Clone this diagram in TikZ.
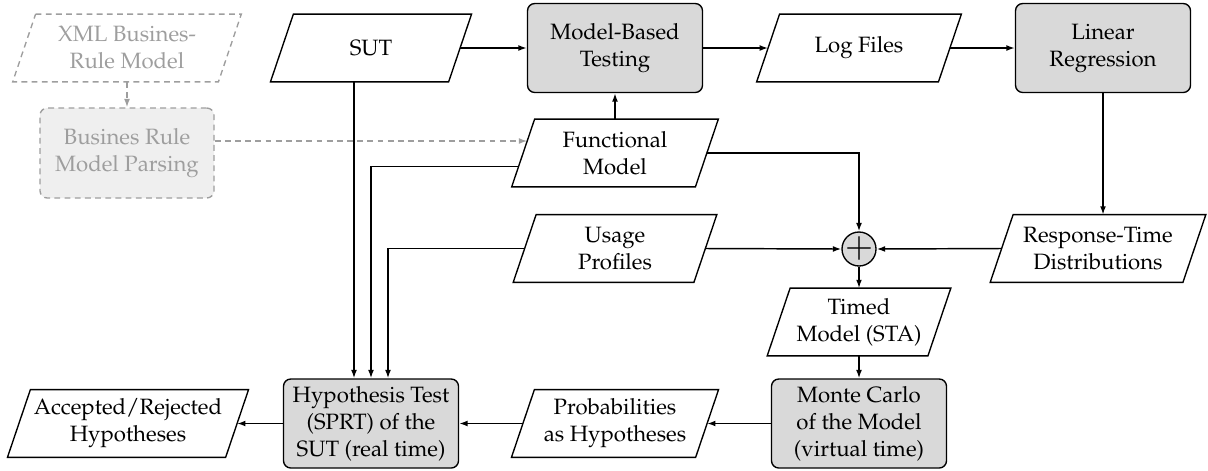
\documentclass[tikz,border=0pt]{standalone}
\usepackage[T1]{fontenc}
\usepackage{mathpazo}
\usetikzlibrary{arrows.meta,calc}
\definecolor{boxgray}{HTML}{D9D9D9}
\definecolor{lightfill}{HTML}{EFEFEF}
\definecolor{ghost}{HTML}{9E9E9E}
\newcommand\paraoutline[2][]{%
  \draw[outl,#1] ([xshift=6.3pt]#2.north west) -- ([xshift=6.3pt]#2.north east)
    -- ([xshift=-6.3pt]#2.south east) -- ([xshift=-6.3pt]#2.south west) -- cycle;}
\tikzset{
  txt/.style={font=\fontsize{12.2}{14.85}\selectfont, align=center},
  outl/.style={line width=0.75pt, line join=miter},
  para/.style={txt, rectangle, inner sep=0pt, minimum height=36.85pt},
  procbox/.style={txt, rectangle, draw, line width=0.75pt, rounded corners=4pt,
    fill=boxgray, minimum width=96.25pt, minimum height=48.95pt, inner sep=1pt},
  ghostpara/.style={para, text=ghost},
  ghostbox/.style={txt, rectangle, draw=ghost, text=ghost, dash pattern=on 3.2pt off 2.4pt,
    line width=0.75pt, rounded corners=4pt, fill=lightfill,
    minimum width=95.7pt, minimum height=49.5pt},
  conn/.style={line width=0.8pt, -{Latex[length=4.6pt,width=3.2pt]}},
  ghostconn/.style={line width=0.75pt, draw=ghost, dash pattern=on 3.2pt off 2.4pt,
    -{Latex[length=4.6pt,width=3.2pt,fill=ghost]}},
  plusnode/.style={circle, draw, line width=0.75pt, fill=boxgray, minimum size=18.7pt, inner sep=0pt}
}
\begin{document}
\begin{tikzpicture}[x=0.55pt, y=-0.55pt]
\useasboundingbox (0,0) rectangle (1208,470);

% nodes
\node[ghostpara, minimum width=112.75pt] (xml) at (127,48) {XML Busines-\\Rule Model};
\node[ghostbox] (parse) at (127,153) {Busines Rule\\Model Parsing};
\node[para, minimum width=97.6pt] (sut) at (371,48) {SUT};
\node[procbox] (mbt) at (615,48) {Model-Based\\Testing};
\node[para, minimum width=99.6pt] (log) at (859,48) {Log Files};
\node[procbox] (linreg) at (1103,48) {Linear\\Regression};
\node[para, minimum width=100.65pt] (func) at (615,153) {Functional\\Model};
\node[para, minimum width=99pt] (usage) at (615,248.5) {Usage\\Profiles};
\node[plusnode] (plus) at (859,249) {\fontsize{19}{19}\selectfont\makebox[0pt]{\raisebox{-0.25em}[0pt][0pt]{$+$}}};
\node[para, minimum width=105.6pt] (resp) at (1098,248.5) {Response-Time\\Distributions};
\node[para, minimum width=88pt] (timed) at (859,322) {Timed\\Model (STA)};
\node[procbox] (monte) at (859,423.5) {Monte Carlo\\of the Model\\(virtual time)};
\node[para, minimum width=100.9pt] (prob) at (615,423.5) {Probabilities\\as Hypotheses};
\node[procbox] (hyp) at (371,423.5) {Hypothesis Test\\(SPRT) of the\\SUT (real time)};
\node[para, minimum width=119.6pt] (acc) at (128,423.5) {Accepted/Rejected\\Hypotheses};

% parallelogram outlines
\paraoutline[draw=ghost, dash pattern=on 3.2pt off 2.4pt]{xml}
\paraoutline{sut}
\paraoutline{log}
\paraoutline{func}
\paraoutline{usage}
\paraoutline{resp}
\paraoutline{timed}
\paraoutline{prob}
\paraoutline{acc}

% connectors
\draw[ghostconn] (xml.south) -- (parse.north);
\draw[ghostconn] ([yshift=6.6pt]parse.east) -- ([xshift=2.3pt,yshift=6.6pt]func.west);
\draw[conn] (sut.east) -- (mbt.west);
\draw[conn] (mbt.east) -- (log.west);
\draw[conn] (log.east) -- (linreg.west);
\draw[conn] (func.north) -- (mbt.south);
\draw[conn] (func.east) -| (plus.north);
\draw[conn] (usage.east) -- (plus.west);
\draw[conn] (resp.west) -- (plus.east);
\draw[conn] (linreg.south) -- (linreg.south |- resp.north);
\draw[conn] (plus.south) -- (timed.north);
\draw[conn] (timed.south) -- (monte.north);
\draw[conn] (monte.west) -- (prob.east);
\draw[conn] (prob.west) -- (hyp.east);
\draw[conn] (hyp.west) -- (acc.east);
\draw[conn] ([xshift=-9.35pt]sut.south) -- ([xshift=-9.35pt]hyp.north);
\draw[conn] ([xshift=-2.5pt,yshift=-7.3pt]func.west) -| (hyp.north);
\draw[conn] (usage.west) -| ([xshift=9.35pt]hyp.north);
\end{tikzpicture}
\end{document}
